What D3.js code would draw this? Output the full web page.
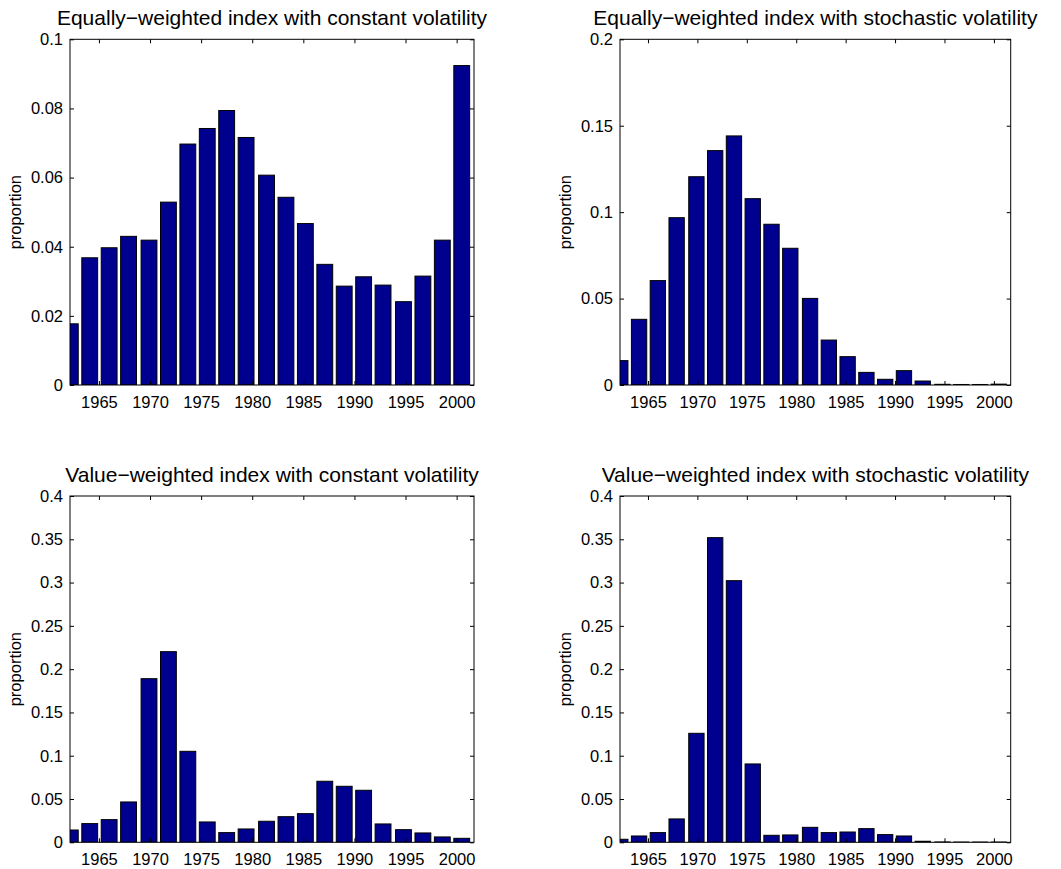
<!DOCTYPE html>
<html>
<head>
<meta charset="utf-8">
<script src="https://cdn.jsdelivr.net/npm/d3@7"></script>
<style>
  body { margin: 0; background: #fff; }
  svg text { font-family: "Liberation Sans", Arial, Helvetica, sans-serif; fill: #000; }
</style>
</head>
<body>
<div id="chart"></div>
<script>
// bin centres (years) shared by all four histograms
var years = [1962.2, 1964.1, 1966.0, 1967.9, 1969.9, 1971.8, 1973.7, 1975.6, 1977.5, 1979.4, 1981.4,
             1983.3, 1985.2, 1987.1, 1989.0, 1990.9, 1992.8, 1994.8, 1996.7, 1998.6, 2000.5];

var ewConstant = [0.0177, 0.0368, 0.0397, 0.0430, 0.0419, 0.0529, 0.0697, 0.0742, 0.0794, 0.0716, 0.0607,
                  0.0543, 0.0467, 0.0349, 0.0286, 0.0313, 0.0289, 0.0241, 0.0315, 0.0419, 0.0924];
var ewStochastic = [0.0141, 0.0380, 0.0604, 0.0968, 0.1205, 0.1356, 0.1441, 0.1078, 0.0930, 0.0791, 0.0501,
                    0.0260, 0.0164, 0.0073, 0.0033, 0.0083, 0.0023, 0.0004, 0.0003, 0.0003, 0.0005];
var vwConstant = [0.0142, 0.0216, 0.0262, 0.0466, 0.1890, 0.2202, 0.1051, 0.0235, 0.0112, 0.0154, 0.0243,
                  0.0296, 0.0331, 0.0705, 0.0647, 0.0601, 0.0212, 0.0146, 0.0108, 0.0062, 0.0046];
var vwStochastic = [0.0035, 0.0073, 0.0112, 0.0270, 0.1259, 0.3519, 0.3022, 0.0905, 0.0081, 0.0085, 0.0173,
                    0.0112, 0.0119, 0.0158, 0.0089, 0.0073, 0.0012, 0.0004, 0.0003, 0.0003, 0.0003];

var xTicks = [1965, 1970, 1975, 1980, 1985, 1990, 1995, 2000];
var yTicksEwConstant = [0, 0.02, 0.04, 0.06, 0.08, 0.1];
var yTicksEwStochastic = [0, 0.05, 0.1, 0.15, 0.2];
var yTicksVw = [0, 0.05, 0.1, 0.15, 0.2, 0.25, 0.3, 0.35, 0.4];

var titles = [
  "Equally\u2212weighted index with constant volatility",
  "Equally\u2212weighted index with stochastic volatility",
  "Value\u2212weighted index with constant volatility",
  "Value\u2212weighted index with stochastic volatility"
];

var panels = [
  {title: titles[0], values: ewConstant,   yMax: 0.1, yTicks: yTicksEwConstant,   x: 70,  y: 39.3, w: 404,   h: 345.7},
  {title: titles[1], values: ewStochastic, yMax: 0.2, yTicks: yTicksEwStochastic, x: 620, y: 39.3, w: 390.7, h: 345.7},
  {title: titles[2], values: vwConstant,   yMax: 0.4, yTicks: yTicksVw,           x: 70,  y: 496,  w: 404,   h: 346.3},
  {title: titles[3], values: vwStochastic, yMax: 0.4, yTicks: yTicksVw,           x: 620, y: 496,  w: 390.7, h: 346.3}
];

var svg = d3.select("#chart").append("svg")
  .attr("width", 1061)
  .attr("height", 869);

var xDomain = [1962.17, 2001.7];
var barWidthYears = 1.55;
var fmt = function(d) { return String(+d.toFixed(4)); };

panels.forEach(function(p, i) {
  var g = svg.append("g").attr("transform", "translate(" + p.x + "," + p.y + ")");

  var x = d3.scaleLinear().domain(xDomain).range([0, p.w]);
  var y = d3.scaleLinear().domain([0, p.yMax]).range([p.h, 0]);

  g.append("clipPath").attr("id", "clip" + i)
    .append("rect").attr("width", p.w).attr("height", p.h);

  g.append("g")
    .attr("clip-path", "url(#clip" + i + ")")
    .selectAll("rect")
    .data(p.values)
    .join("rect")
      .attr("x", function(d, j) { return x(years[j] - barWidthYears / 2); })
      .attr("width", x(xDomain[0] + barWidthYears) - x(xDomain[0]))
      .attr("y", function(d) { return y(d); })
      .attr("height", function(d) { return p.h - y(d); })
      .attr("fill", "#00008f")
      .attr("stroke", "#000")
      .attr("stroke-width", 1);

  // axes with inward ticks on all four sides
  var xb = g.append("g").attr("transform", "translate(0," + p.h + ")")
    .call(d3.axisBottom(x).tickValues(xTicks).tickSizeInner(-4).tickSizeOuter(0).tickPadding(11).tickFormat(d3.format("d")));
  var xt = g.append("g")
    .call(d3.axisTop(x).tickValues(xTicks).tickSizeInner(-4).tickSizeOuter(0).tickFormat(""));
  var yl = g.append("g")
    .call(d3.axisLeft(y).tickValues(p.yTicks).tickSizeInner(-4).tickSizeOuter(0).tickPadding(7).tickFormat(fmt));
  var yr = g.append("g").attr("transform", "translate(" + p.w + ",0)")
    .call(d3.axisRight(y).tickValues(p.yTicks).tickSizeInner(-4).tickSizeOuter(0).tickFormat(""));

  [xb, xt, yl, yr].forEach(function(a) {
    a.select(".domain").remove();
    a.selectAll(".tick line").attr("stroke", "#000");
    a.selectAll(".tick text").attr("font-size", "16.5px").attr("fill", "#000");
  });
  xb.selectAll(".tick text").attr("dy", "0.71em");

  g.append("rect")
    .attr("width", p.w)
    .attr("height", p.h)
    .attr("fill", "none")
    .attr("stroke", "#000")
    .attr("stroke-width", 1);

  g.append("text")
    .attr("x", p.w / 2)
    .attr("y", -14)
    .attr("text-anchor", "middle")
    .attr("font-size", "21px")
    .text(p.title);

  g.append("text")
    .attr("transform", "translate(-49," + (p.h / 2) + ") rotate(-90)")
    .attr("text-anchor", "middle")
    .attr("font-size", "16.5px")
    .text("proportion");
});
</script>
</body>
</html>
